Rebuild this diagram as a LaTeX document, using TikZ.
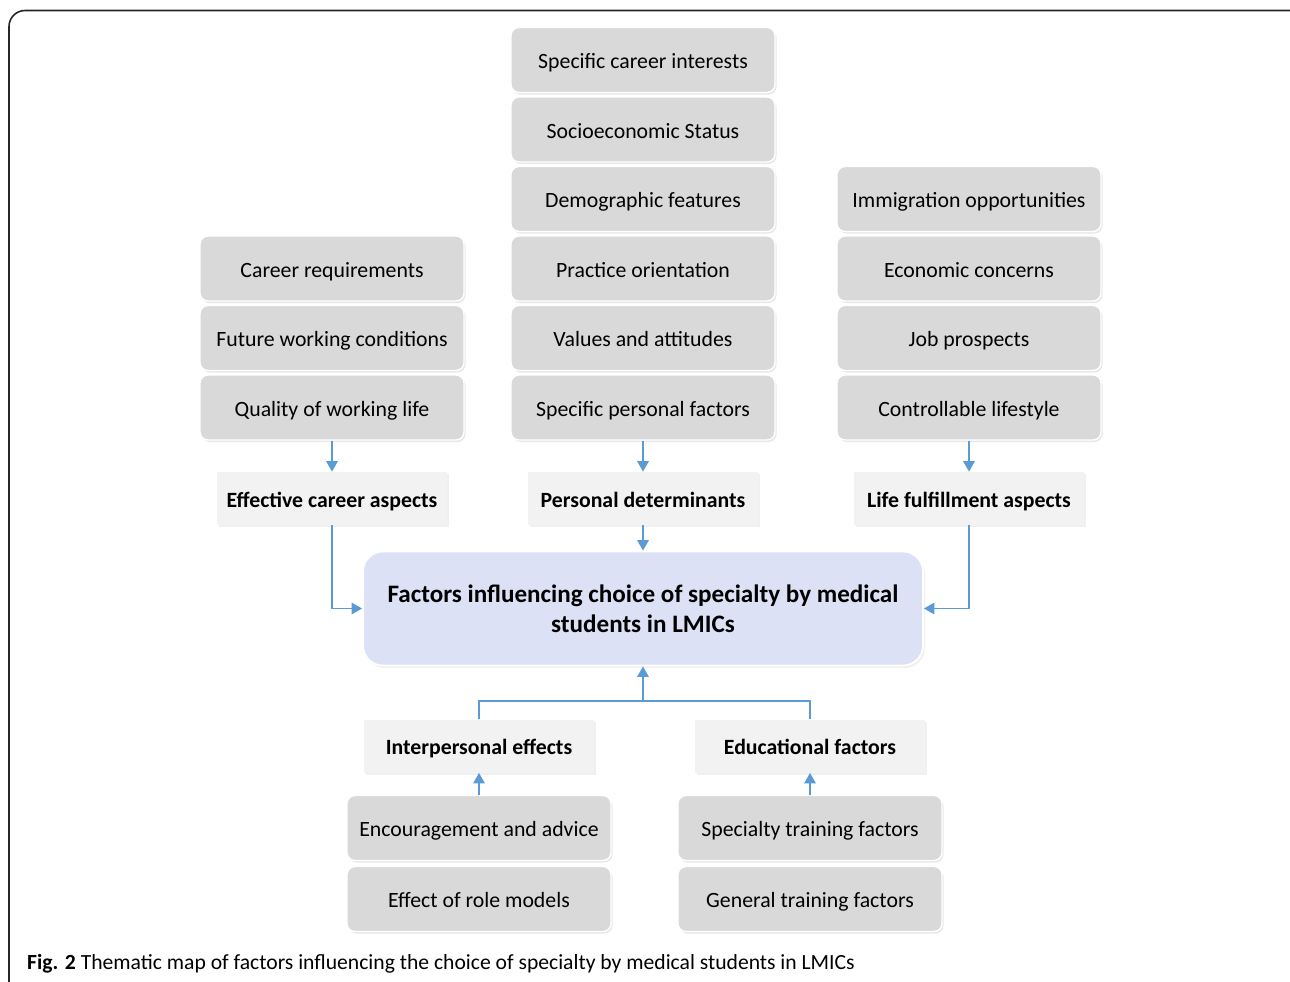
\documentclass[tikz,border=0pt]{standalone}
\usepackage{fontspec}
\setmainfont{Carlito}
\usetikzlibrary{arrows.meta,shadows}
\definecolor{itemgray}{HTML}{D9D9D9}
\definecolor{themegray}{HTML}{F2F2F2}
\definecolor{hubblue}{HTML}{DCE1F5}
\definecolor{arrowblue}{HTML}{5B9BD5}
\tikzset{
  item/.style={rectangle, rounded corners=0.16cm, fill=itemgray, draw=white, line width=0.8pt,
    minimum width=5.28cm, minimum height=1.3cm, font=\fontsize{12.4}{14}\selectfont,
    text height=2.2ex, text depth=0.15ex,
    drop shadow={opacity=0.18, shadow xshift=0.03cm, shadow yshift=-0.04cm}},
  theme/.style={rectangle, fill=themegray, minimum width=4.6cm, minimum height=1.06cm,
    font=\fontsize{12.4}{14}\selectfont\bfseries, text height=2.2ex, text depth=0.15ex,
    drop shadow={opacity=0.12, shadow xshift=0.04cm, shadow yshift=-0.04cm}},
  hub/.style={rectangle, rounded corners=0.4cm, fill=hubblue, draw=white, line width=1pt,
    minimum width=11.2cm, minimum height=2.28cm, align=center,
    font=\fontsize{14.3}{17}\selectfont\bfseries,
    drop shadow={opacity=0.12, shadow xshift=0.04cm, shadow yshift=-0.05cm}},
  link/.style={draw=arrowblue, line width=1.1pt, -{Triangle[length=6pt,width=6.5pt]}},
  frame/.style={draw=black!85, line width=0.9pt, rounded corners=0.32cm}
}
\begin{document}
\begin{tikzpicture}[node distance = 1.39cm, auto]
  \clip (0,0) rectangle (25.8,-19.62);
  \useasboundingbox (0,0) rectangle (25.8,-19.62);
  \draw [frame] (0.18,-0.21) rectangle (26.2,-20.4);
      % middle column
      \node [item] (SCI) at (12.86,-1.2) {Specific career interests};
      \node [item] (SES) [below of=SCI] {Socioeconomic Status};
      \node [item] (DF) [below of=SES] {Demographic features};
      \node [item] (PO) [below of=DF] {Practice orientation};
      \node [item] (VA) [below of=PO] {Values and attitudes};
      \node [item] (SPF) [below of=VA] {Specific personal factors};
      % left column
      \node [item] (QWL) [left of=SPF, node distance=6.22cm] {Quality of working life};
      \node [item] (FWC) [above of=QWL] {Future working conditions};
      \node [item] (CR) [above of=FWC] {Career requirements};
      % right column
      \node [item] (CL) [right of=SPF, node distance=6.52cm] {Controllable lifestyle};
      \node [item] (JP) [above of=CL] {Job prospects};
      \node [item] (EC) [above of=JP] {Economic concerns};
      \node [item] (IO) [above of=EC] {Immigration opportunities};
      % themes
      \node [theme] (ECA) [below of=QWL, node distance=1.82cm] {Effective career aspects};
      \node [theme] (PD) [below of=SPF, node distance=1.82cm] {Personal determinants};
      \node [theme] (LFA) [below of=CL, node distance=1.82cm] {Life fulfillment aspects};
      \node [hub] (FIC) [below of=PD, node distance=2.2cm] {Factors influencing choice of specialty by medical\\ students in LMICs};
      \node [theme] (IE) at (9.58,-14.92) {Interpersonal effects};
      \node [theme] (EF) at (16.2,-14.92) {Educational factors};
      \node [item] (EA) [below of=IE, node distance=1.64cm] {Encouragement and advice};
      \node [item] (RM) [below of=EA, node distance=1.42cm] {Effect of role models};
      \node [item] (STF) [below of=EF, node distance=1.64cm] {Specialty training factors};
      \node [item] (GTF) [below of=STF, node distance=1.42cm] {General training factors};
      \coordinate (J) at (12.86,-14.02);
    \draw [link] (QWL) to (ECA);
    \draw [link] (SPF) to (PD);
    \draw [link] (CL) to (LFA);
    \draw [link] (PD) to (FIC);
    \draw [link] (ECA) |- (FIC);
    \draw [link] (LFA) |- (FIC);
    \draw [link, -] (IE) |- (J) -| (EF);
    \draw [link] (J) to (FIC);
    \draw [link] (EA) to (IE);
    \draw [link] (STF) to (EF);
      \node [anchor=west, font=\fontsize{12.3}{14}\selectfont] (cap) at (0.42,-19.28) {\textbf{Fig. 2} Thematic map of factors influencing the choice of specialty by medical students in LMICs};
      \end{tikzpicture}
\end{document}
